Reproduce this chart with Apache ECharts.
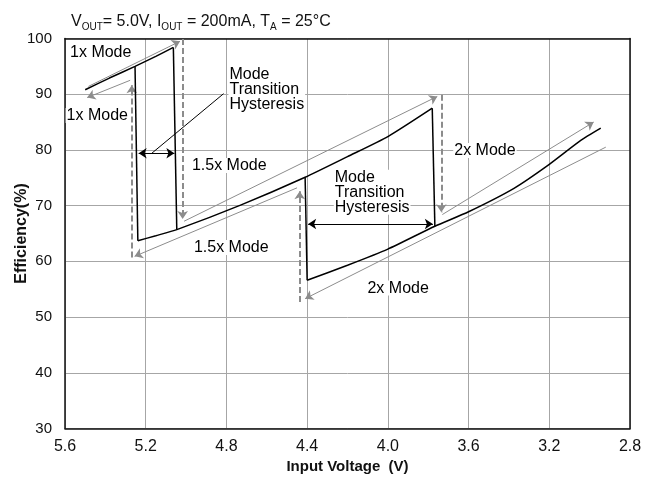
<!DOCTYPE html>
<html><head><meta charset="utf-8">
<script src="https://cdn.jsdelivr.net/npm/echarts@6/dist/echarts.min.js"></script>
<style>html,body{margin:0;padding:0;background:#fff}#c{width:654px;height:479px}</style>
</head><body><div id="c"></div>
<script>
// ---- data (Input Voltage V, Efficiency %) ----
const mode1x = [[5.50,90.8],[5.38,92.9],[5.253,95.0],[5.15,96.8],[5.063,98.4]];
const mode15x = [[5.239,63.7],[5.15,64.6],[5.046,65.7],[4.73,70.1],[4.41,75.1],[4.2,78.8],[4.0,82.4],[3.78,87.5]];
const mode2x = [[4.40,56.6],[4.2,59.3],[4.0,62.2],[3.767,66.3],[3.6,68.9],[3.375,73.1],[3.2,77.4],[3.044,81.7],[2.945,83.9]];
const modeJumps = [
  [[5.063,98.4],[5.046,65.7]],
  [[5.253,95.0],[5.239,63.7]],
  [[3.78,87.5],[3.767,66.3]],
  [[4.41,75.1],[4.40,56.6]]
];
const grayArrows = [
  [[5.484,91.4],[5.030,99.5]],
  [[5.277,92.5],[5.490,89.4]],
  [[5.010,67.2],[3.755,89.6]],
  [[3.730,68.4],[2.980,85.0]],
  [[2.920,80.5],[4.410,53.3]],
  [[4.450,73.2],[5.255,60.9]]
];
const dashedArrows = [
  [[5.017,99.9],[5.017,67.6]],
  [[5.269,60.7],[5.269,91.6]],
  [[3.735,89.9],[3.735,68.8]],
  [[4.437,52.7],[4.437,72.6]]
];
const hysteresisArrows = [
  [[5.235,79.4],[5.058,79.4]],
  [[4.395,66.7],[3.777,66.7]]
];
const leaderLines = [[[5.17,79.4],[4.814,90.1]]];
const labelTexts = ['1x Mode','1x Mode','Mode\nTransition\nHysteresis','1.5x Mode','1.5x Mode','Mode\nTransition\nHysteresis','2x Mode','2x Mode'];
const labelAnchors = [[5.58,97.5],[5.597,86.2],[4.79,90.8],[4.976,77.2],[4.966,62.5],[4.268,72.4],[3.676,79.9],[4.106,55.2]];
const xRange = [2.8, 5.6, 0.4];
const yRange = [30, 100, 10];

const FONT = 'Liberation Sans, Arial, sans-serif';
const chart = echarts.init(document.getElementById('c'), null, {renderer:'canvas'});

const linePlain = (data) => ({
  type:'line', data, showSymbol:false, symbol:'none', silent:true,
  smooth:0.2,
  lineStyle:{color:'#000', width:1.5}, z:5
});

const option = {
  animation:false,
  title:{
    text:'{a|V}{s|OUT}{a|= 5.0V, I}{s|OUT}{a| = 200mA, T}{s|A}{a| = 25°C}',
    left:66, top:7,
    textStyle:{
      fontWeight:'normal',
      rich:{
        a:{fontFamily:FONT, fontSize:16, fontWeight:'normal', color:'#111', lineHeight:20},
        s:{fontFamily:FONT, fontSize:10, fontWeight:'normal', color:'#111', lineHeight:9, padding:[11,0,0,0]}
      }
    }
  },
  grid:{left:65, right:24, top:38.5, bottom:50.5, outerBoundsMode:'none', containLabel:false},
  xAxis:[{
    type:'value', min:xRange[0], max:xRange[1], interval:xRange[2], inverse:true,
    name:'Input Voltage  (V)', nameLocation:'middle', nameGap:31, nameMoveOverlap:false,
    nameTextStyle:{fontFamily:FONT, fontSize:15, fontWeight:'bold', color:'#111'},
    axisLine:{show:true, lineStyle:{color:'#111', width:1.5}},
    axisTick:{show:false},
    axisLabel:{fontFamily:FONT, fontSize:16, color:'#111', margin:10, formatter:v=>v.toFixed(1)},
    splitLine:{show:true, lineStyle:{color:'#a6a6a6', width:1}}
  },{
    type:'value', position:'top', min:xRange[0], max:xRange[1], interval:xRange[2], inverse:true,
    axisLine:{show:true, onZero:false, lineStyle:{color:'#111', width:1.5}},
    axisTick:{show:false}, axisLabel:{show:false}, splitLine:{show:false}
  }],
  yAxis:[{
    type:'value', min:yRange[0], max:yRange[1], interval:yRange[2],
    name:'Efficiency(%)', nameLocation:'middle', nameGap:35, nameMoveOverlap:false,
    nameTextStyle:{fontFamily:FONT, fontSize:16, fontWeight:'bold', color:'#111'},
    axisLine:{show:true, lineStyle:{color:'#111', width:1.5}},
    axisTick:{show:false},
    axisLabel:{fontFamily:FONT, fontSize:15, color:'#111', margin:13},
    splitLine:{show:true, lineStyle:{color:'#a6a6a6', width:1}}
  },{
    type:'value', position:'right', min:yRange[0], max:yRange[1], interval:yRange[2],
    axisLine:{show:true, onZero:false, lineStyle:{color:'#111', width:1.5}},
    axisTick:{show:false}, axisLabel:{show:false}, splitLine:{show:false}
  }],
  series:[
    {
      type:'lines', coordinateSystem:'cartesian2d', silent:true, z:3,
      symbol:['none','arrow'], symbolSize:8,
      lineStyle:{color:'#8c8c8c', width:1, opacity:1},
      data:grayArrows.map(c=>({coords:c}))
    },
    {
      type:'lines', coordinateSystem:'cartesian2d', silent:true, z:3,
      symbol:['none','arrow'], symbolSize:8,
      lineStyle:{color:'#8c8c8c', width:2, type:[6,3], opacity:1},
      data:dashedArrows.map(c=>({coords:c}))
    },
    {
      type:'lines', coordinateSystem:'cartesian2d', silent:true, z:4,
      symbol:['arrow','arrow'], symbolSize:8,
      lineStyle:{color:'#000', width:1.2, opacity:1},
      data:hysteresisArrows.map(c=>({coords:c}))
    },
    {
      type:'lines', coordinateSystem:'cartesian2d', silent:true, z:4,
      symbol:['none','none'],
      lineStyle:{color:'#000', width:1, opacity:1},
      data:leaderLines.map(c=>({coords:c}))
    },
    {
      type:'lines', coordinateSystem:'cartesian2d', silent:true, z:5,
      symbol:['none','none'],
      lineStyle:{color:'#000', width:1.5, opacity:1},
      data:modeJumps.map(c=>({coords:c}))
    },
    linePlain(mode1x),
    linePlain(mode15x),
    linePlain(mode2x),
    {
      type:'scatter', silent:true, symbolSize:0, z:10,
      itemStyle:{opacity:1},
      data:labelAnchors.map((p,i)=>({value:p, name:labelTexts[i]})),
      label:{
        show:true, position:[0,0], align:'left', verticalAlign:'middle', opacity:1,
        formatter:p=>p.name, fontFamily:FONT, fontSize:16, lineHeight:15,
        color:'#000', backgroundColor:'#fff', padding:[0,1]
      }
    }
  ]
};
chart.setOption(option);
</script>
</body></html>
